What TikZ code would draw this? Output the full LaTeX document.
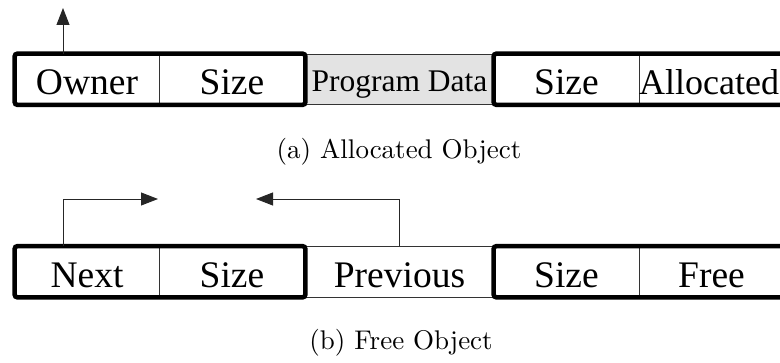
\documentclass[tikz,border=0pt]{standalone}
\usepackage{fontspec}
\setmainfont{Liberation Serif}
\newfontfamily\capfont{lmroman10-regular.otf}
\usetikzlibrary{arrows.meta}

\tikzset{
  cell/.style={draw=black!80, line width=0.9pt, inner sep=0pt,
    minimum height=50.5pt, text height=31pt, text depth=0pt,
    font=\fontsize{37.5}{40}\selectfont},
  datacell/.style={cell, fill=black!11, text height=24pt,
    font=\fontsize{31.5}{36}\selectfont},
  lastcell/.style={cell, font=\fontsize{36}{40}\selectfont},
  frame/.style={draw=black, line width=4.5pt, rounded corners=3pt},
  ptr/.style={draw=black!85, line width=0.9pt, -{Triangle[length=17pt,width=13pt]}},
  caption/.style={font=\capfont\fontsize{27}{30}\selectfont, inner sep=0pt}
}

\begin{document}
\begin{tikzpicture}[x=1pt, y=-1pt]
  \useasboundingbox (0,0) rectangle (780,363);

  % (a) allocated object: header, program data, footer
  \node[cell, minimum width=144pt] (owner) at (87,79.25) {Owner};
  \node[cell, minimum width=146pt] (asize) at (232,79.25) {Size};
  \node[datacell, minimum width=189pt] (data) at (399.5,79.25) {Program Data};
  \node[cell, minimum width=145pt] (asize2) at (566.5,79.25) {Size};
  \node[lastcell, minimum width=145pt] (alloc) at (711.5,79.25) {Allocated\hspace*{5pt}};
  \draw[frame] (owner.north west) rectangle (asize.south east);
  \draw[frame] (asize2.north west) rectangle (alloc.south east);

  \coordinate (ownerTip) at (63,8);
  \draw[ptr] (owner.north -| ownerTip) -- (ownerTip);

  \node[caption] (capA) at (399,152) {(a) Allocated Object};

  % (b) free object: header, links, footer
  \node[cell, minimum width=144pt] (next) at (87,271.75) {Next};
  \node[cell, minimum width=146pt] (fsize) at (232,271.75) {Size};
  \node[cell, minimum width=189pt] (prev) at (399.5,271.75) {Previous};
  \node[cell, minimum width=145pt] (fsize2) at (566.5,271.75) {Size};
  \node[cell, minimum width=145pt] (free) at (711.5,271.75) {Free};
  \draw[frame] (next.north west) rectangle (fsize.south east);
  \draw[frame] (fsize2.north west) rectangle (free.south east);

  \coordinate (nextKnee) at (63,199);
  \coordinate (nextTip) at (158,199);
  \coordinate (prevTip) at (256,199);
  \draw[ptr] (next.north -| nextKnee) -- (nextKnee) -- (nextTip);
  \draw[ptr] (prev.north) |- (prevTip);

  \node[caption] (capB) at (401,343) {(b) Free Object};
\end{tikzpicture}
\end{document}
